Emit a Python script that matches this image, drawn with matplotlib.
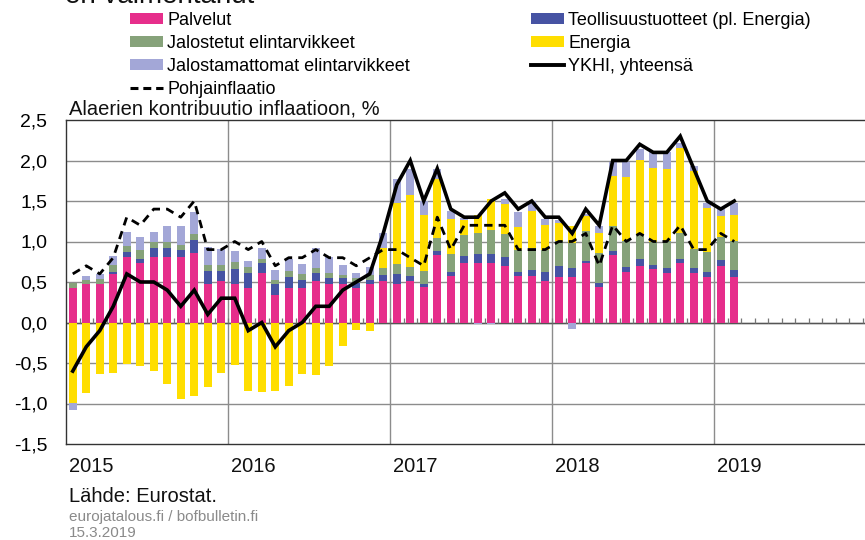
import numpy as np
import matplotlib
matplotlib.use("Agg")
import matplotlib.pyplot as plt
from matplotlib.patches import Patch
from matplotlib.lines import Line2D

plt.rcParams['font.family'] = ['Liberation Sans', 'DejaVu Sans']

# monthly data, Jan 2015 - Feb 2019
start_year = 2015
palvelut = [0.42, 0.47, 0.47, 0.60, 0.81, 0.73, 0.81, 0.81, 0.81, 0.86, 0.47, 0.51,
            0.47, 0.43, 0.61, 0.34, 0.43, 0.43, 0.51, 0.47, 0.47, 0.43, 0.47, 0.51,
            0.48, 0.51, 0.44, 0.83, 0.57, 0.74, 0.74, 0.74, 0.70, 0.57, 0.57, 0.51,
            0.56, 0.56, 0.74, 0.44, 0.83, 0.62, 0.70, 0.66, 0.61, 0.74, 0.61, 0.56,
            0.70, 0.56]
teollisuus = [-0.01, -0.01, 0.0, 0.02, 0.06, 0.06, 0.11, 0.11, 0.09, 0.16, 0.16, 0.13,
              0.19, 0.18, 0.13, 0.14, 0.13, 0.10, 0.10, 0.08, 0.08, 0.06, 0.06, 0.08,
              0.12, 0.06, 0.04, 0.05, 0.05, 0.08, 0.11, 0.11, 0.11, 0.05, 0.08, 0.11,
              0.14, 0.11, 0.02, 0.05, 0.05, 0.07, 0.08, 0.05, 0.06, 0.05, 0.06, 0.06,
              0.07, 0.09]
jalostetut = [0.07, 0.06, 0.07, 0.09, 0.07, 0.11, 0.07, 0.07, 0.06, 0.07, 0.08, 0.07,
              0.09, 0.08, 0.04, 0.05, 0.07, 0.07, 0.06, 0.06, 0.04, 0.06, 0.06, 0.08,
              0.12, 0.12, 0.16, 0.16, 0.22, 0.26, 0.26, 0.29, 0.28, 0.28, 0.27, 0.28,
              0.31, 0.31, 0.37, 0.37, 0.31, 0.32, 0.31, 0.29, 0.34, 0.32, 0.24, 0.25,
              0.28, 0.36]
energia = [-0.98, -0.86, -0.64, -0.62, -0.51, -0.54, -0.60, -0.76, -0.95, -0.91, -0.80, -0.62,
           -0.53, -0.84, -0.86, -0.85, -0.79, -0.63, -0.65, -0.54, -0.29, -0.09, -0.11, 0.25,
           0.76, 0.88, 0.69, 0.73, 0.44, 0.19, 0.22, 0.39, 0.37, 0.28, 0.46, 0.30,
           0.22, 0.21, 0.19, 0.24, 0.62, 0.79, 0.92, 0.91, 0.88, 1.04, 0.96, 0.54,
           0.27, 0.32]
jalostamattomat = [-0.09, 0.04, 0.06, 0.11, 0.18, 0.16, 0.13, 0.20, 0.23, 0.27, 0.22, 0.20,
                   0.13, 0.07, 0.14, 0.12, 0.15, 0.12, 0.25, 0.20, 0.12, 0.06, 0.10, 0.19,
                   0.29, 0.32, 0.17, 0.12, 0.10, 0.02, -0.02, -0.02, 0.07, 0.18, 0.12, 0.08,
                   0.03, -0.08, 0.02, 0.09, 0.17, 0.18, 0.13, 0.19, 0.21, 0.07, 0.06, 0.07,
                   0.08, 0.15]
ykhi = [-0.6, -0.3, -0.1, 0.2, 0.6, 0.5, 0.5, 0.4, 0.2, 0.4, 0.1, 0.3,
        0.3, -0.1, 0.0, -0.3, -0.1, 0.0, 0.2, 0.2, 0.4, 0.5, 0.6, 1.1,
        1.7, 2.0, 1.5, 1.9, 1.4, 1.3, 1.3, 1.5, 1.6, 1.4, 1.5, 1.3,
        1.3, 1.1, 1.4, 1.2, 2.0, 2.0, 2.2, 2.1, 2.1, 2.3, 1.9, 1.5,
        1.4, 1.5]
pohja = [0.6, 0.7, 0.6, 0.8, 1.3, 1.2, 1.4, 1.4, 1.3, 1.5, 0.9, 0.9,
         1.0, 0.9, 1.0, 0.7, 0.8, 0.8, 0.9, 0.8, 0.8, 0.7, 0.8, 0.9,
         0.9, 0.8, 0.7, 1.3, 0.9, 1.2, 1.2, 1.2, 1.2, 0.9, 0.9, 0.9,
         1.0, 1.0, 1.1, 0.7, 1.2, 1.0, 1.1, 1.0, 1.0, 1.2, 0.9, 0.9,
         1.1, 1.0]
years = [2015, 2016, 2017, 2018, 2019]
ytick_labels = ["-1,5", "-1,0", "-0,5", "0,0", "0,5", "1,0", "1,5", "2,0", "2,5"]

series = [
    ("Palvelut", palvelut, "#E62E8B"),
    ("Teollisuustuotteet (pl. Energia)", teollisuus, "#4653A3"),
    ("Jalostetut elintarvikkeet", jalostetut, "#86A27A"),
    ("Energia", energia, "#FFDE00"),
    ("Jalostamattomat elintarvikkeet", jalostamattomat, "#A3A7D7"),
]

n = len(palvelut)
x = start_year + (np.arange(n) + 0.5) / 12

fig = plt.figure(figsize=(8.65, 5.4), dpi=100)
ax = fig.add_axes([66/865, 1 - 444/540, 1 - 66/865, 324/540])

# grid
for v in np.arange(-1.0, 2.5, 0.5):
    ax.axhline(v, color="#8c8c8c", lw=1.0, zorder=0)
for yr in years[1:]:
    ax.axvline(yr, color="#8c8c8c", lw=1.0, zorder=0)
ax.axhline(0, color="#555555", lw=1.0, zorder=1)

# month ticks on zero line
edges = start_year + np.arange(1, 60) / 12
ax.vlines(edges, 0, 0.05, color="#777777", lw=0.9, zorder=1)

# stacked bars, positives and negatives stacked separately
pos_base = np.zeros(n)
neg_base = np.zeros(n)
w = 0.56 / 12
for name, vals, col in series:
    vals = np.array(vals)
    base = np.where(vals >= 0, pos_base, neg_base)
    ax.bar(x, vals, width=w, bottom=base, color=col, edgecolor="none", zorder=2)
    pos_base = pos_base + np.clip(vals, 0, None)
    neg_base = neg_base + np.clip(vals, None, 0)

ax.plot(x, pohja, color="black", lw=2.0, ls=(0, (3.0, 2.2)), zorder=3)
ax.plot(x, ykhi, color="black", lw=2.6, zorder=4, solid_joinstyle="miter")

ax.set_xlim(start_year, start_year + (865 - 66) / 162)
ax.set_ylim(-1.5, 2.5)
ax.set_yticks(np.arange(-1.5, 2.6, 0.5))
ax.set_yticklabels(ytick_labels, fontsize=14)
ax.tick_params(axis="y", length=0, pad=13.5)
ax.set_xticks([])
for s in ["left", "bottom", "top"]:
    ax.spines[s].set_color("#333333")
    ax.spines[s].set_linewidth(1.0)
ax.spines["right"].set_visible(False)

for yr in years:
    ax.text(yr + 0.02, -0.07, str(yr), transform=ax.get_xaxis_transform(),
            ha="left", va="center", fontsize=14.5, color="#111111")

# texts
fig.text(69/865, 1 - 109/540, "Alaerien kontribuutio inflaatioon, %", fontsize=14.5,
         ha="left", va="center", color="#111111")
fig.text(65/865, 1 - 3/540, "en vaimentanut", fontsize=20, ha="left",
         va="baseline", color="#111111")
fig.text(69/865, 1 - 496/540, "Lähde: Eurostat.", fontsize=14.5, ha="left",
         va="center", color="#111111")
fig.text(69/865, 1 - 517/540, "eurojatalous.fi / bofbulletin.fi", fontsize=11,
         ha="left", va="center", color="#8a8a8a")
fig.text(69/865, 1 - 533/540, "15.3.2019", fontsize=11, ha="left",
         va="center", color="#8a8a8a")

# legends
h = {name: Patch(facecolor=col, edgecolor="none") for name, vals, col in series}
solid = Line2D([], [], color="black", lw=2.8)
dashed = Line2D([], [], color="black", lw=2.2, ls=(0, (2.6, 1.6)))
leg_kw = dict(loc="upper left", frameon=False, fontsize=13, borderpad=0,
              borderaxespad=0, handlelength=1.85, handleheight=0.6,
              handletextpad=0.2, labelspacing=0.33)
leg1 = fig.legend([h["Palvelut"], h["Jalostetut elintarvikkeet"],
                   h["Jalostamattomat elintarvikkeet"], dashed],
                  ["Palvelut", "Jalostetut elintarvikkeet",
                   "Jalostamattomat elintarvikkeet", "Pohjainflaatio"],
                  bbox_to_anchor=(130/865, 1 - 12/540), **leg_kw)
leg2 = fig.legend([h["Teollisuustuotteet (pl. Energia)"], h["Energia"], solid],
                  ["Teollisuustuotteet (pl. Energia)", "Energia", "YKHI, yhteensä"],
                  bbox_to_anchor=(531/865, 1 - 12/540), **leg_kw)

fig.savefig("out.png", dpi=100)
